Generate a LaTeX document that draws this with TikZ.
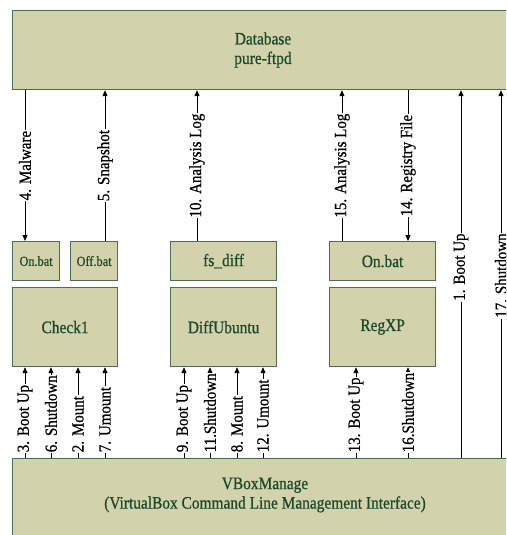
\documentclass[tikz,border=0pt]{standalone}
\usepackage{fontspec}
\setmainfont{Liberation Serif}[FakeStretch=0.88,FakeBold=0.7]
\usetikzlibrary{arrows.meta}
\definecolor{boxfill}{RGB}{210,211,172}
\definecolor{boxline}{RGB}{78,108,80}
\definecolor{boxtext}{RGB}{28,72,40}
\tikzset{
  box/.style={draw=boxline, line width=1.2pt, fill=boxfill, anchor=north west, inner sep=0pt,
    text=boxtext, align=center, font=\fontsize{17.5}{19.5}\selectfont},
  smallbox/.style={box, font=\fontsize{14}{16}\selectfont},
  boxtxt/.style={text=boxtext, align=center, font=\fontsize{17.5}{19.5}\selectfont},
  arr/.style={line width=0.9pt, -{Triangle[length=6pt,width=5pt]}},
  lbl/.style={rotate=90, fill=white, inner sep=0.8pt, text=black, font=\fontsize{17}{19}\selectfont},
}
\begin{document}
\begin{tikzpicture}[x=1pt,y=-1pt]
\useasboundingbox (0,0) rectangle (506,535);
\clip (0,0) rectangle (506,535);
% main boxes
\node[box, minimum width=510, minimum height=79] (db) at (12,10) {};
\node[boxtxt] (dbt) at (263,50) {Database\\pure-ftpd};
\node[box, minimum width=510, minimum height=90] (vbox) at (12,458) {};
\node[boxtxt] (vboxt) at (265,495) {VBoxManage\\(VirtualBox Command Line Management Interface)};
% small boxes
\node[smallbox, minimum width=47, minimum height=39] (onbat) at (12,241) {On.bat};
\node[smallbox, minimum width=47, minimum height=39] (offbat) at (70,241) {Off.bat};
\node[box, minimum width=106, minimum height=39] (fsdiff) at (170,241) {fs\_diff};
\node[box, minimum width=106, minimum height=39] (onbat2) at (329,241) {On.bat};
% big boxes
\node[box, minimum width=105, minimum height=79] (check) at (12,287) {Check1};
\node[box, minimum width=106, minimum height=79] (diff) at (170,287) {DiffUbuntu};
\node[box, minimum width=106, minimum height=79] (reg) at (329,287) {RegXP};
% top connectors
\draw[arr] (25,0 |- db.south) -- node[lbl, midway]{4. Malware} (25,0 |- onbat.north);
\draw[arr] (105,0 |- offbat.north) -- node[lbl, midway]{5. Snapshot} (105,0 |- db.south);
\draw[arr] (197,0 |- fsdiff.north) -- node[lbl, midway]{10. Analysis Log} (197,0 |- db.south);
\draw[arr] (342,0 |- onbat2.north) -- node[lbl, midway]{15. Analysis Log} (342,0 |- db.south);
\draw[arr] (408,0 |- db.south) -- node[lbl, midway]{14. Registry File} (408,0 |- onbat2.north);
% long connectors
\draw[arr] (461,0 |- vbox.north) -- node[lbl, pos=0.614, anchor=east]{1. Boot Up} (461,0 |- db.south);
\draw[arr] (501,0 |- vbox.north) -- node[lbl, pos=0.614, anchor=east]{17. Shutdown} (501,0 |- db.south);
% bottom connectors
\draw[arr] (25,0 |- vbox.north) -- node[lbl, pos=0.05, anchor=west]{3. Boot Up} (25,0 |- check.south);
\draw[arr] (51,0 |- vbox.north) -- node[lbl, pos=0.05, anchor=west]{6. Shutdown} (51,0 |- check.south);
\draw[arr] (78,0 |- vbox.north) -- node[lbl, pos=0.05, anchor=west]{2. Mount} (78,0 |- check.south);
\draw[arr] (105,0 |- vbox.north) -- node[lbl, pos=0.05, anchor=west]{7. Umount} (105,0 |- check.south);
\draw[arr] (184,0 |- vbox.north) -- node[lbl, pos=0.05, anchor=west]{9. Boot Up} (184,0 |- diff.south);
\draw[arr] (210,0 |- vbox.north) -- node[lbl, pos=0.05, anchor=west]{11.Shutdown} (210,0 |- diff.south);
\draw[arr] (237,0 |- vbox.north) -- node[lbl, pos=0.05, anchor=west]{8. Mount} (237,0 |- diff.south);
\draw[arr] (263,0 |- vbox.north) -- node[lbl, pos=0.05, anchor=west]{12. Umount} (263,0 |- diff.south);
\draw[arr] (356,0 |- vbox.north) -- node[lbl, pos=0.05, anchor=west]{13. Boot Up} (356,0 |- reg.south);
\draw[arr] (408,0 |- vbox.north) -- node[lbl, pos=0.05, anchor=west]{16.Shutdown} (408,0 |- reg.south);
\end{tikzpicture}
\end{document}
